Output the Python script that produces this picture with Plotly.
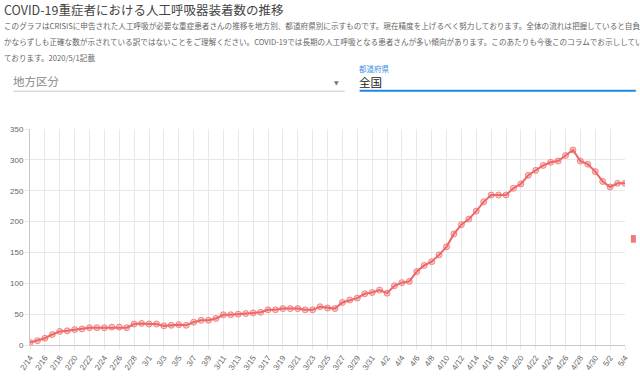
import pandas as pd
import plotly.graph_objects as go

# ---- data ----
dates = pd.date_range("2020-02-14", "2020-05-04", freq="D")
ventilators = [
    4, 7, 11, 17, 22, 23, 25, 26, 28, 28, 28, 29, 29, 28, 34, 35,          # Feb 14-29
    34, 34, 31, 32, 33, 32, 37, 40, 40, 43, 49, 49, 50, 51, 52, 53,        # Mar 1-16
    57, 57, 59, 59, 59, 57, 57, 62, 60, 59, 69, 73, 76, 83, 85,            # Mar 17-31
    89, 84, 96, 101, 103, 119, 129, 135, 146, 159, 180, 195, 204, 217, 232,  # Apr 1-15
    243, 243, 243, 254, 261, 275, 283, 291, 296, 298, 307, 316, 298, 293, 281,  # Apr 16-30
    265, 256, 262, 262,                                                     # May 1-4
]
y_ticks = [0, 50, 100, 150, 200, 250, 300, 350]

title_text = "COVID-19重症者における人工呼吸器装着数の推移"
desc_lines = [
    "このグラフはCRISISに申告された人工呼吸が必要な重症患者さんの推移を地方別、都道府県別に示すものです。現在精度を上げるべく努力しております。全体の流れは把握していると自負しておりますが",
    "かならずしも正確な数が示されている訳ではないことをご理解ください。COVID-19では長期の人工呼吸となる患者さんが多い傾向があります。このあたりも今後このコラムでお示ししていきたいと思っ",
    "ております。2020/5/1記載",
]
region_label = "地方区分"
pref_label = "都道府県"
pref_value = "全国"

W, H = 640, 382
ML, MR, MT, MB = 27, 10, 129, 27
LINE = "rgb(238,104,104)"
FONT = "Noto Sans CJK JP"

fig = go.Figure()
fig.add_trace(go.Scatter(
    x=dates, y=ventilators, mode="lines+markers",
    line=dict(color=LINE, width=2),
    marker=dict(size=6, color="rgba(238,104,104,0.35)",
                line=dict(color="rgba(238,104,104,0.75)", width=1)),
    showlegend=False, hoverinfo="x+y",
))

PW, PH = W - ML - MR, H - MT - MB


def px(x):
    return (x - ML) / PW


def py(y):
    return (H - MB - y) / PH


def note(text, x, y, size, color, family=FONT, xanchor="left"):
    return dict(text=text, x=px(x), y=py(y), xanchor=xanchor, yanchor="middle",
                showarrow=False, xref="paper", yref="paper", borderpad=0,
                font=dict(family=family, size=size, color=color))


ann = [note(title_text, 0, 4, 12.5, "#444444")]
for i, t in enumerate(desc_lines):
    ann.append(note(t, 0, 21 + 16.5 * i, 7.6, "#666666"))
ann.append(note(region_label, 9, 79, 11.5, "#888888"))
ann.append(note("▼", 338, 80, 6, "#777777", family="DejaVu Sans", xanchor="center"))
ann.append(note(pref_label, 359, 66, 7.5, "#3d8fe0"))
ann.append(note(pref_value, 359, 79.5, 11.5, "#222222"))

shapes = [
    dict(type="line", xref="paper", yref="paper", x0=px(10), x1=px(346), y0=py(89.5), y1=py(89.5),
         line=dict(color="#c8c8c8", width=1)),
    dict(type="line", xref="paper", yref="paper", x0=px(361), x1=px(641), y0=py(89), y1=py(89),
         line=dict(color="#1e88e5", width=2)),
    dict(type="rect", xref="paper", yref="paper", x0=px(636), x1=px(641), y0=py(248), y1=py(240),
         line=dict(width=0), fillcolor="rgb(240,120,120)"),
]

fig.update_layout(
    width=W, height=H,
    margin=dict(l=ML, r=MR, t=MT, b=MB, pad=0),
    paper_bgcolor="white", plot_bgcolor="white",
    annotations=ann, shapes=shapes,
    font=dict(family=FONT, color="#666666"),
    xaxis=dict(
        type="date", range=[dates[0], dates[-1]],
        tick0=dates[0], dtick=2 * 86400000, tickformat="%-m/%-d",
        tickangle=-55, tickfont=dict(size=8, color="#666666", family="Liberation Sans"),
        showgrid=True, gridcolor="#e8e8e8", gridwidth=1,
        ticks="outside", ticklen=4, tickcolor="#e8e8e8",
        showline=True, linecolor="#c8c8c8", linewidth=1,
        zeroline=False, fixedrange=True,
    ),
    yaxis=dict(
        range=[0, 350], tickvals=y_ticks,
        tickfont=dict(size=8, color="#666666", family="Liberation Sans"),
        showgrid=True, gridcolor="#e8e8e8", gridwidth=1,
        ticks="outside", ticklen=4, tickcolor="#e8e8e8",
        showline=True, linecolor="#c8c8c8", linewidth=1,
        zeroline=False, fixedrange=True,
    ),
)

fig.write_html(
    "out.html",
    config=dict(displayModeBar=False),
    post_script="document.body.style.margin='0';document.body.style.padding='0';document.body.style.overflow='hidden';",
)
